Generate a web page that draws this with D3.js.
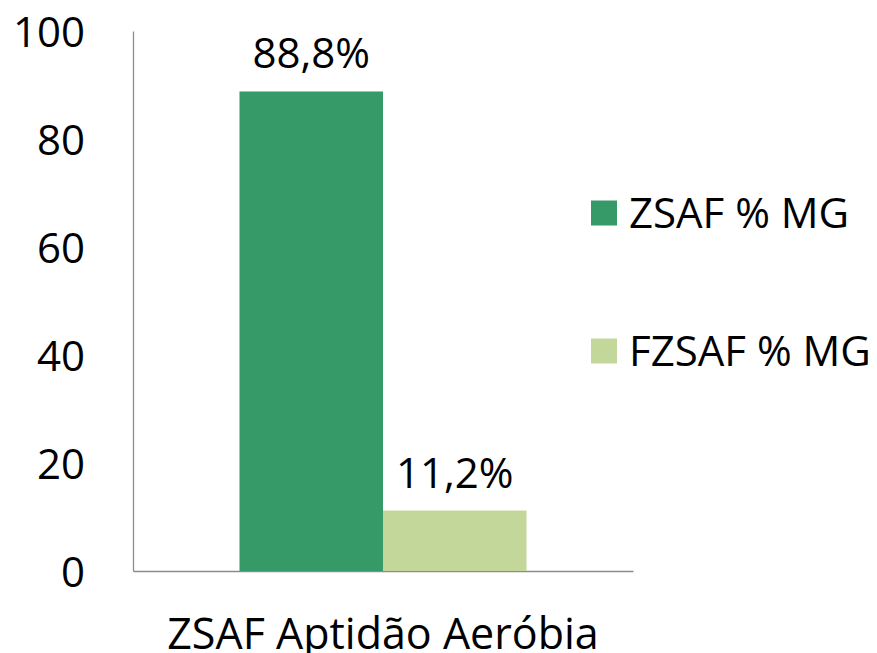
<!DOCTYPE html>
<html>
<head>
<meta charset="utf-8">
<script src="https://cdn.jsdelivr.net/npm/d3@7"></script>
<style>
  body { margin: 0; background: #fff; }
  svg text { font-family: "Open Sans", "Noto Sans", sans-serif; fill: #000; }
</style>
</head>
<body>
<svg id="chart" width="877" height="653"></svg>
<script>
// chart data
const categories = ['ZSAF Aptidão Aeróbia'];
const seriesNames = ['ZSAF % MG', 'FZSAF % MG'];
const seriesValues = [88.8, 11.2];
const valueLabels = ['88,8%', '11,2%'];
const yTicks = [0, 20, 40, 60, 80, 100];
const colors = ['#359a68', '#c4d79b'];

const margin = { top: 31, right: 244, bottom: 82, left: 133 };
const width = 877 - margin.left - margin.right;
const height = 653 - margin.top - margin.bottom;

const svg = d3.select('#chart');
const g = svg.append('g').attr('transform', `translate(${margin.left},${margin.top})`);

const x0 = d3.scaleBand().domain(categories).range([0, width]).paddingInner(0).paddingOuter(0.371);
const x1 = d3.scaleBand().domain(seriesNames).range([0, x0.bandwidth()]);
const y = d3.scaleLinear().domain([0, 100]).range([height, 0]);

// y axis
const yAxis = d3.axisLeft(y).tickValues(yTicks).tickSize(0).tickPadding(48);
const yg = g.append('g').call(yAxis);
yg.select('.domain').attr('stroke', '#8c8c8c').attr('stroke-width', 1.3);
yg.selectAll('text').style('font-size', '42px').attr('dy', '0.36em');

// x axis
const xAxis = d3.axisBottom(x0).tickSize(0).tickPadding(47);
const xg = g.append('g').attr('transform', `translate(0,${height})`).call(xAxis);
xg.select('.domain').attr('stroke', '#8c8c8c').attr('stroke-width', 1.3);
xg.selectAll('text').style('font-size', '43px').attr('dy', '0.71em');

// bars
const bars = g.append('g').attr('transform', `translate(${x0(categories[0])},0)`);
bars.selectAll('rect')
  .data(seriesNames)
  .join('rect')
  .attr('x', d => x1(d))
  .attr('width', x1.bandwidth())
  .attr('y', (d, i) => y(seriesValues[i]))
  .attr('height', (d, i) => height - y(seriesValues[i]))
  .attr('fill', (d, i) => colors[i]);

bars.selectAll('text.val')
  .data(seriesNames)
  .join('text')
  .attr('class', 'val')
  .attr('x', d => x1(d) + x1.bandwidth() / 2)
  .attr('y', (d, i) => y(seriesValues[i]) - 23)
  .attr('text-anchor', 'middle')
  .style('font-size', '42px')
  .text((d, i) => valueLabels[i]);

// legend
const legend = svg.append('g').attr('transform', 'translate(591,0)');
const legendY = [213, 351];
seriesNames.forEach((name, i) => {
  legend.append('rect')
    .attr('x', 0).attr('y', legendY[i] - 12.5)
    .attr('width', 26).attr('height', 25)
    .attr('fill', colors[i]);
  legend.append('text')
    .attr('x', 38).attr('y', legendY[i])
    .attr('dy', '0.36em')
    .style('font-size', '42px')
    .text(name);
});
</script>
</body>
</html>
